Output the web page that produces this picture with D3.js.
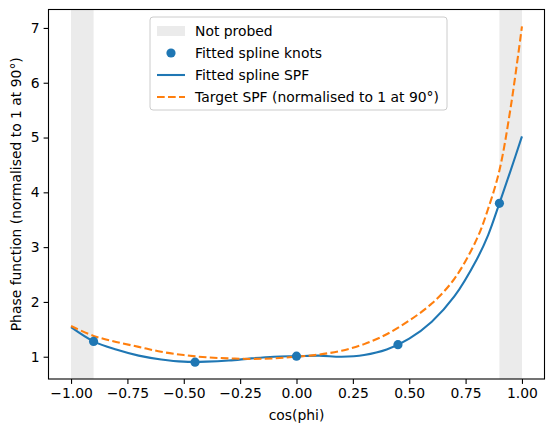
<!DOCTYPE html>
<html lang="en">
<head>
<meta charset="utf-8">
<title>Phase function spline fit</title>
<script src="https://cdn.jsdelivr.net/npm/d3@7"></script>
<style>
  body { margin: 0; background: #fff; }
  text { font-family: 'DejaVu Sans', sans-serif; fill: #000; }
</style>
</head>
<body>
<script>
// values
var xGrid = [-1.0, -0.9, -0.8, -0.7, -0.6, -0.5, -0.4, -0.3, -0.2, -0.1, 0.0, 0.1, 0.2, 0.3, 0.4, 0.5, 0.6, 0.7, 0.8, 0.85, 0.9, 0.95, 1.0];
var splineSPF = [1.54, 1.28, 1.13, 1.02, 0.95, 0.91, 0.91, 0.93, 0.97, 1.00, 1.01, 1.02, 1.00, 1.03, 1.13, 1.33, 1.64, 2.10, 2.78, 3.22, 3.80, 4.40, 5.02];
var targetSPF = [1.56, 1.38, 1.27, 1.18, 1.09, 1.03, 0.99, 0.97, 0.96, 0.97, 1.00, 1.04, 1.11, 1.23, 1.41, 1.66, 1.97, 2.42, 3.15, 3.70, 4.40, 5.55, 7.03];
var knotX = [-0.9, -0.45, 0.0, 0.45, 0.9];
var knotY = [1.28, 0.90, 1.01, 1.22, 3.80];
var notProbed = [[-1.0, -0.9], [0.9, 1.0]];
var xTicks = [-1.0, -0.75, -0.5, -0.25, 0.0, 0.25, 0.5, 0.75, 1.0];
var yTicks = [1, 2, 3, 4, 5, 6, 7];

var w = 554, h = 432;
// plot area edges (note: "top" is a reserved window property, so use other names)
var plotL = 48.5, plotR = 544.5, plotT = 9.5, plotB = 379;
var blue = "#1f77b4", orange = "#ff7f0e", grey = "#ebebeb";

var svg = d3.select("body").append("svg")
    .attr("width", w)
    .attr("height", h);

// matplotlib style 5% margins
var allY = splineSPF.concat(targetSPF, knotY);
var yMin = d3.min(allY), yMax = d3.max(allY);
var yPad = (yMax - yMin) * 0.05;

var xScale = d3.scaleLinear().domain([-1.1, 1.1]).range([plotL, plotR]);
var yScale = d3.scaleLinear().domain([yMin - yPad, yMax + yPad]).range([plotB, plotT]);

// shaded "not probed" bands
svg.selectAll("rect.band")
   .data(notProbed)
   .enter()
   .append("rect")
   .attr("class", "band")
   .attr("x", function(d) { return xScale(d[0]); })
   .attr("width", function(d) { return xScale(d[1]) - xScale(d[0]); })
   .attr("y", plotT)
   .attr("height", plotB - plotT)
   .attr("fill", grey);

var line = function(ys) {
  return d3.line()
    .x(function(d, i) { return xScale(xGrid[i]); })
    .y(function(d) { return yScale(d); })
    .curve(d3.curveCatmullRom.alpha(0.5))(ys);
};

svg.append("path")
   .attr("d", line(splineSPF))
   .attr("fill", "none")
   .attr("stroke", blue)
   .attr("stroke-width", 2.08);

svg.append("path")
   .attr("d", line(targetSPF))
   .attr("fill", "none")
   .attr("stroke", orange)
   .attr("stroke-width", 2.08)
   .attr("stroke-dasharray", "7.7,3.3");

svg.selectAll("circle.knot")
   .data(knotX)
   .enter()
   .append("circle")
   .attr("class", "knot")
   .attr("cx", function(d) { return xScale(d); })
   .attr("cy", function(d, i) { return yScale(knotY[i]); })
   .attr("r", 4.6)
   .attr("fill", blue);

// axes
var xAxis = d3.axisBottom(xScale)
    .tickValues(xTicks)
    .tickFormat(d3.format(".2f"))
    .tickSizeInner(4.9).tickSizeOuter(0).tickPadding(4);
var yAxis = d3.axisLeft(yScale)
    .tickValues(yTicks)
    .tickFormat(d3.format("d"))
    .tickSizeInner(4.9).tickSizeOuter(0).tickPadding(4);

var gx = svg.append("g")
    .attr("transform", "translate(0," + plotB + ")")
    .call(xAxis);
var gy = svg.append("g")
    .attr("transform", "translate(" + plotL + ",0)")
    .call(yAxis);
[gx, gy].forEach(function(g) {
  g.select(".domain").remove();
  g.selectAll("line").attr("stroke", "#000").attr("stroke-width", 1.1);
  g.selectAll("text").attr("font-size", "13.9px").attr("font-family", "'DejaVu Sans', sans-serif").attr("fill", "#000");
});

// frame
svg.append("rect")
   .attr("x", plotL).attr("y", plotT)
   .attr("width", plotR - plotL).attr("height", plotB - plotT)
   .attr("fill", "none").attr("stroke", "#000").attr("stroke-width", 1.1);

svg.append("text")
   .attr("x", (plotL + plotR) / 2).attr("y", 420)
   .attr("text-anchor", "middle")
   .attr("font-size", "13.9px")
   .text("cos(phi)");

svg.append("text")
   .attr("transform", "translate(21," + ((plotT + plotB) / 2) + ") rotate(-90)")
   .attr("text-anchor", "middle")
   .attr("font-size", "13.9px")
   .text("Phase function (normalised to 1 at 90°)");

// legend
var legendLabels = ["Not probed", "Fitted spline knots", "Fitted spline SPF", "Target SPF (normalised to 1 at 90°)"];
var lg = svg.append("g");
lg.append("rect")
  .attr("x", 150).attr("y", 17)
  .attr("width", 297).attr("height", 93)
  .attr("rx", 3)
  .attr("fill", "#fff").attr("fill-opacity", 0.8)
  .attr("stroke", "#cccccc").attr("stroke-width", 1);

var rowY = function(i) { return 31 + i * 22; };
lg.append("rect")
  .attr("x", 157).attr("y", rowY(0) - 5)
  .attr("width", 28).attr("height", 10)
  .attr("fill", grey);
lg.append("circle")
  .attr("cx", 171).attr("cy", rowY(1)).attr("r", 4.6).attr("fill", blue);
lg.append("line")
  .attr("x1", 157).attr("x2", 185).attr("y1", rowY(2)).attr("y2", rowY(2))
  .attr("stroke", blue).attr("stroke-width", 2.08);
lg.append("line")
  .attr("x1", 157).attr("x2", 185).attr("y1", rowY(3)).attr("y2", rowY(3))
  .attr("stroke", orange).attr("stroke-width", 2.08)
  .attr("stroke-dasharray", "7.7,3.3");

lg.selectAll("text")
  .data(legendLabels)
  .enter()
  .append("text")
  .attr("x", 195)
  .attr("y", function(d, i) { return rowY(i); })
  .attr("dy", "0.35em")
  .attr("font-size", "13.9px")
  .text(function(d) { return d; });
</script>
</body>
</html>
